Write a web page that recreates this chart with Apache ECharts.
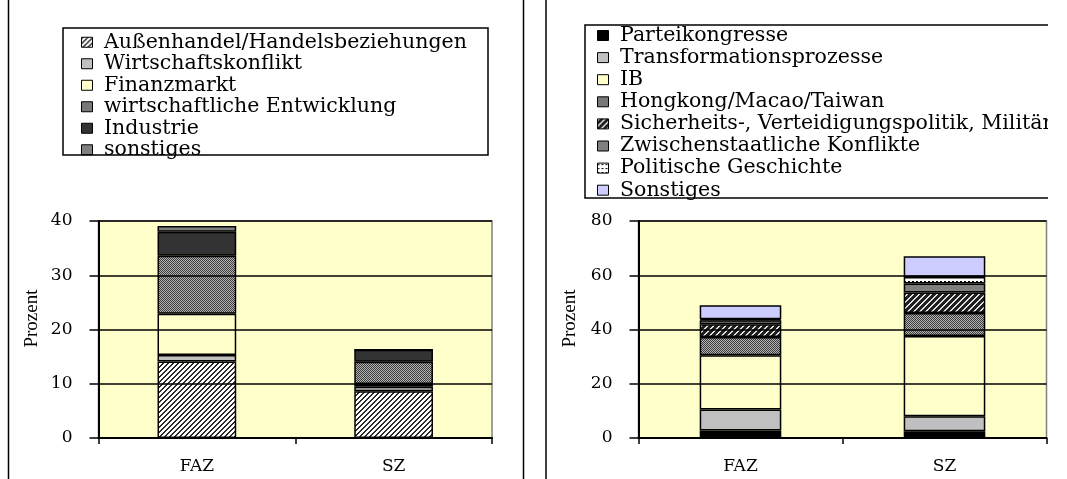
<!DOCTYPE html>
<html><head><meta charset="utf-8">
<script src="https://cdn.jsdelivr.net/npm/echarts@6/dist/echarts.min.js"></script>
<style>html,body{margin:0;padding:0;background:#fff}#c{width:1067px;height:479px}</style>
</head><body><div id="c"></div>
<script>
// ---- data ----
const categories = ['FAZ', 'SZ'];
const leftNames = ['Außenhandel/Handelsbeziehungen', 'Wirtschaftskonflikt', 'Finanzmarkt', 'wirtschaftliche Entwicklung', 'Industrie', 'sonstiges'];
const leftFAZ = [14.1, 1.2, 7.6, 10.7, 4.4, 1.1];
const leftSZ  = [8.6, 0.85, 0.5, 4.1, 2.2, 0];
const rightNames = ['Parteikongresse', 'Transformationsprozesse', 'IB', 'Hongkong/Macao/Taiwan', 'Sicherheits-, Verteidigungspolitik, Militär', 'Zwischenstaatliche Konflikte', 'Politische Geschichte', 'Sonstiges'];
const rightFAZ = [2.8, 7.7, 20.0, 6.7, 4.7, 1.5, 0.4, 5.15];
const rightSZ  = [2.5, 5.5, 29.6, 8.5, 7.5, 3.4, 2.4, 7.6];
const leftMax = 40, leftInterval = 10;
const rightMax = 80, rightInterval = 20;

// ---- patterns ----
function pat(w, h, fn) {
  const c = document.createElement('canvas'); c.width = w; c.height = h;
  const g = c.getContext('2d');
  for (let y = 0; y < h; y++) for (let x = 0; x < w; x++) { g.fillStyle = fn(x, y); g.fillRect(x, y, 1, 1); }
  return { image: c, repeat: 'repeat' };
}
const hatchLight = pat(5, 5, (x, y) => ((x + y) % 5 < 2 ? '#2a2a2a' : '#ffffff'));
const hatchDark = pat(6, 6, (x, y) => ((x + y) % 6 < 2 ? '#e0e0e0' : '#202020'));
const checker = pat(2, 2, (x, y) => ((x + y) % 2 === 0 ? '#3c3c3c' : '#b4b4b4'));
const dots = pat(4, 4, (x, y) => ((y === 1 && x < 2) ? '#000000' : '#ffffff'));

const leftColors = [hatchLight, '#c0c0c0', '#ffffcc', checker, '#333333', '#808080'];
const rightColors = ['#000000', '#c0c0c0', '#ffffcc', checker, hatchDark, '#808080', dots, '#ccccff'];

const FONT = 'DejaVu Serif';
const series = [];
leftNames.forEach((n, i) => series.push({
  name: n, type: 'bar', stack: 'L', xAxisIndex: 0, yAxisIndex: 0, barWidth: '40%',
  data: [leftFAZ[i], leftSZ[i]],
  itemStyle: { color: leftColors[i], borderColor: '#000', borderWidth: 1.5 },
  emphasis: { disabled: true }
}));
rightNames.forEach((n, i) => series.push({
  name: n, type: 'bar', stack: 'R', xAxisIndex: 1, yAxisIndex: 1, barWidth: '40%',
  data: [rightFAZ[i], rightSZ[i]],
  itemStyle: { color: rightColors[i], borderColor: '#000', borderWidth: 1.5 },
  emphasis: { disabled: true }
}));

function xAx(idx) {
  return {
    type: 'category', gridIndex: idx, data: categories,
    axisLine: { show: true, lineStyle: { color: '#000', width: 2 } },
    axisTick: { show: true, length: 6, lineStyle: { color: '#000', width: 1.5 } },
    axisLabel: { color: '#000', fontFamily: FONT, fontSize: 17, margin: 20 },
    z: 10
  };
}
function yAx(idx, max, interval, gap) {
  return {
    type: 'value', gridIndex: idx, min: 0, max: max, interval: interval,
    name: 'Prozent', nameLocation: 'middle', nameRotate: 90, nameGap: gap,
    nameTextStyle: { color: '#000', fontFamily: 'Liberation Serif', fontSize: 19, padding: [0, 0, 0, 22] },
    axisLine: { show: true, lineStyle: { color: '#000', width: 2 } },
    axisTick: { show: true, length: 9, lineStyle: { color: '#000', width: 1.5 } },
    axisLabel: { color: '#000', fontFamily: FONT, fontSize: 17, margin: 26 },
    splitLine: { show: true, lineStyle: { color: '#000', width: 1.5 } },
    z: 10
  };
}
function lg(names, left, top, lh, gap) {
  return {
    data: names, orient: 'vertical', left: left, top: top, padding: 0,
    itemWidth: 11, itemHeight: 10, itemGap: gap, icon: 'rect', selectedMode: false,
    formatter: n => ' ' + n,
    itemStyle: { borderColor: '#000', borderWidth: 1 },
    textStyle: { color: '#000', fontFamily: FONT, fontSize: 20.5, lineHeight: lh }
  };
}

const chart = echarts.init(document.getElementById('c'), null, { renderer: 'canvas' });
chart.setOption({
  animation: false,
  backgroundColor: '#ffffff',
  grid: [
    { left: 98.5, right: 1067 - 492, top: 221, bottom: 479 - 438, show: true, backgroundColor: '#ffffcc', borderColor: '#808080', borderWidth: 1.5 },
    { left: 638.5, right: 1067 - 1046.5, top: 221, bottom: 479 - 438, show: true, backgroundColor: '#ffffcc', borderColor: '#808080', borderWidth: 1.5 }
  ],
  xAxis: [xAx(0), xAx(1)],
  yAxis: [yAx(0, leftMax, leftInterval, 57), yAx(1, rightMax, rightInterval, 59)],
  legend: [lg(leftNames, 81, 31.5, 21.5, 0), lg(rightNames, 597, 24.5, 22, 0.1)],
  series: series,
  graphic: [
    { type: 'rect', shape: { x: 63, y: 28, width: 425, height: 127 }, style: { fill: null, stroke: '#000', lineWidth: 1.5 }, z: 50 },
    { type: 'rect', shape: { x: 585, y: 25, width: 520, height: 173 }, style: { fill: null, stroke: '#000', lineWidth: 1.5 }, z: 50 },
    { type: 'rect', shape: { x: 1048, y: 0, width: 30, height: 479 }, style: { fill: '#ffffff' }, z: 90 },
    { type: 'line', shape: { x1: 8.5, y1: 0, x2: 8.5, y2: 479 }, style: { stroke: '#000', lineWidth: 1.5 }, z: 95 },
    { type: 'line', shape: { x1: 523.5, y1: 0, x2: 523.5, y2: 479 }, style: { stroke: '#000', lineWidth: 1.5 }, z: 95 },
    { type: 'line', shape: { x1: 546, y1: 0, x2: 546, y2: 479 }, style: { stroke: '#000', lineWidth: 1.5 }, z: 95 }
  ]
});
</script></body></html>
